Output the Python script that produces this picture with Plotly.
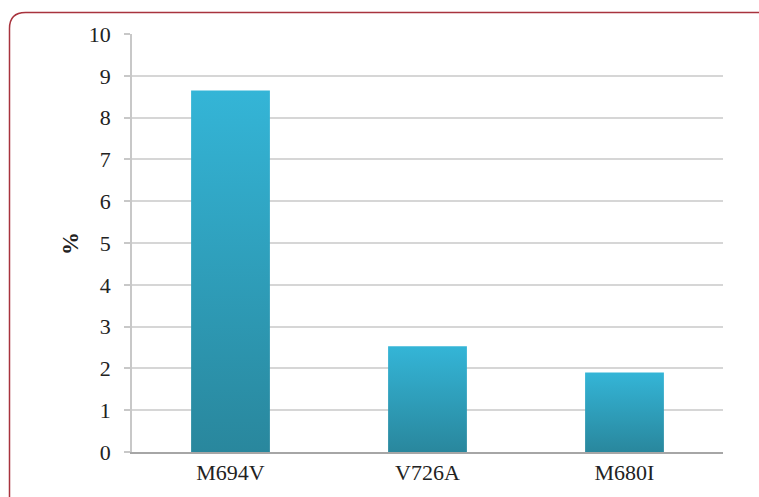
import plotly.graph_objects as go

categories = ["M694V", "V726A", "M680I"]
values = [8.65, 2.53, 1.9]
y_ticks = list(range(0, 11))

W, H = 759, 497
L, R, T, B = 132, 36, 34, 45
pw, ph = W - L - R, H - T - B

def px_x(p):
    return (p - L) / pw

def px_y(p):
    return (H - B - p) / ph

fig = go.Figure()
half = 0.2
for i, (c, v) in enumerate(zip(categories, values)):
    fig.add_trace(go.Scatter(
        x=[i - half, i + half, i + half, i - half, i - half],
        y=[0, 0, v, v, 0],
        fill="toself", mode="lines", line=dict(width=0),
        fillgradient=dict(type="vertical",
                          colorscale=[[0, "#29879d"], [1, "#34b5d7"]]),
        name=c, showlegend=False, hoverinfo="skip",
    ))

# rounded border (right side runs off the picture)
l, r_, t, b = px_x(9.5), px_x(773), px_y(12.5), px_y(505)
rx, ry = 16 / pw, 16 / ph
path = (f"M {l},{b} L {l},{t - ry} Q {l},{t} {l + rx},{t} "
        f"L {r_ - rx},{t} Q {r_},{t} {r_},{t - ry} L {r_},{b}")
fig.add_shape(type="path", xref="paper", yref="paper", path=path,
              line=dict(color="#a8333d", width=1.5), layer="below")

fig.add_annotation(x=px_x(70), y=px_y(244), xref="paper", yref="paper",
                   xanchor="center", yanchor="middle",
                   text="<b>%</b>", textangle=-90, showarrow=False,
                   font=dict(family="Liberation Serif", size=23, color="#222"))

fig.update_layout(
    width=W, height=H, margin=dict(l=L, r=R, t=T, b=B),
    paper_bgcolor="white", plot_bgcolor="white",
    font=dict(family="Liberation Serif", size=22, color="#222"),
    showlegend=False,
)
fig.update_xaxes(range=[-0.5, 2.5], tickvals=[0, 1, 2], ticktext=categories,
                 showgrid=False, zeroline=False, showline=True,
                 linecolor="#a6a6a6", linewidth=1.5, ticks="", fixedrange=True)
fig.update_yaxes(range=[0, 10], tickvals=y_ticks, showgrid=True,
                 gridcolor="#d6d6d6", gridwidth=1.5, zeroline=False,
                 showline=True, linecolor="#c8c8c8", linewidth=1.5,
                 ticks="outside", ticklen=6, tickcolor="#c8c8c8", tickwidth=1.5,
                 ticklabelstandoff=9, fixedrange=True)

fig.write_html("out.html")
